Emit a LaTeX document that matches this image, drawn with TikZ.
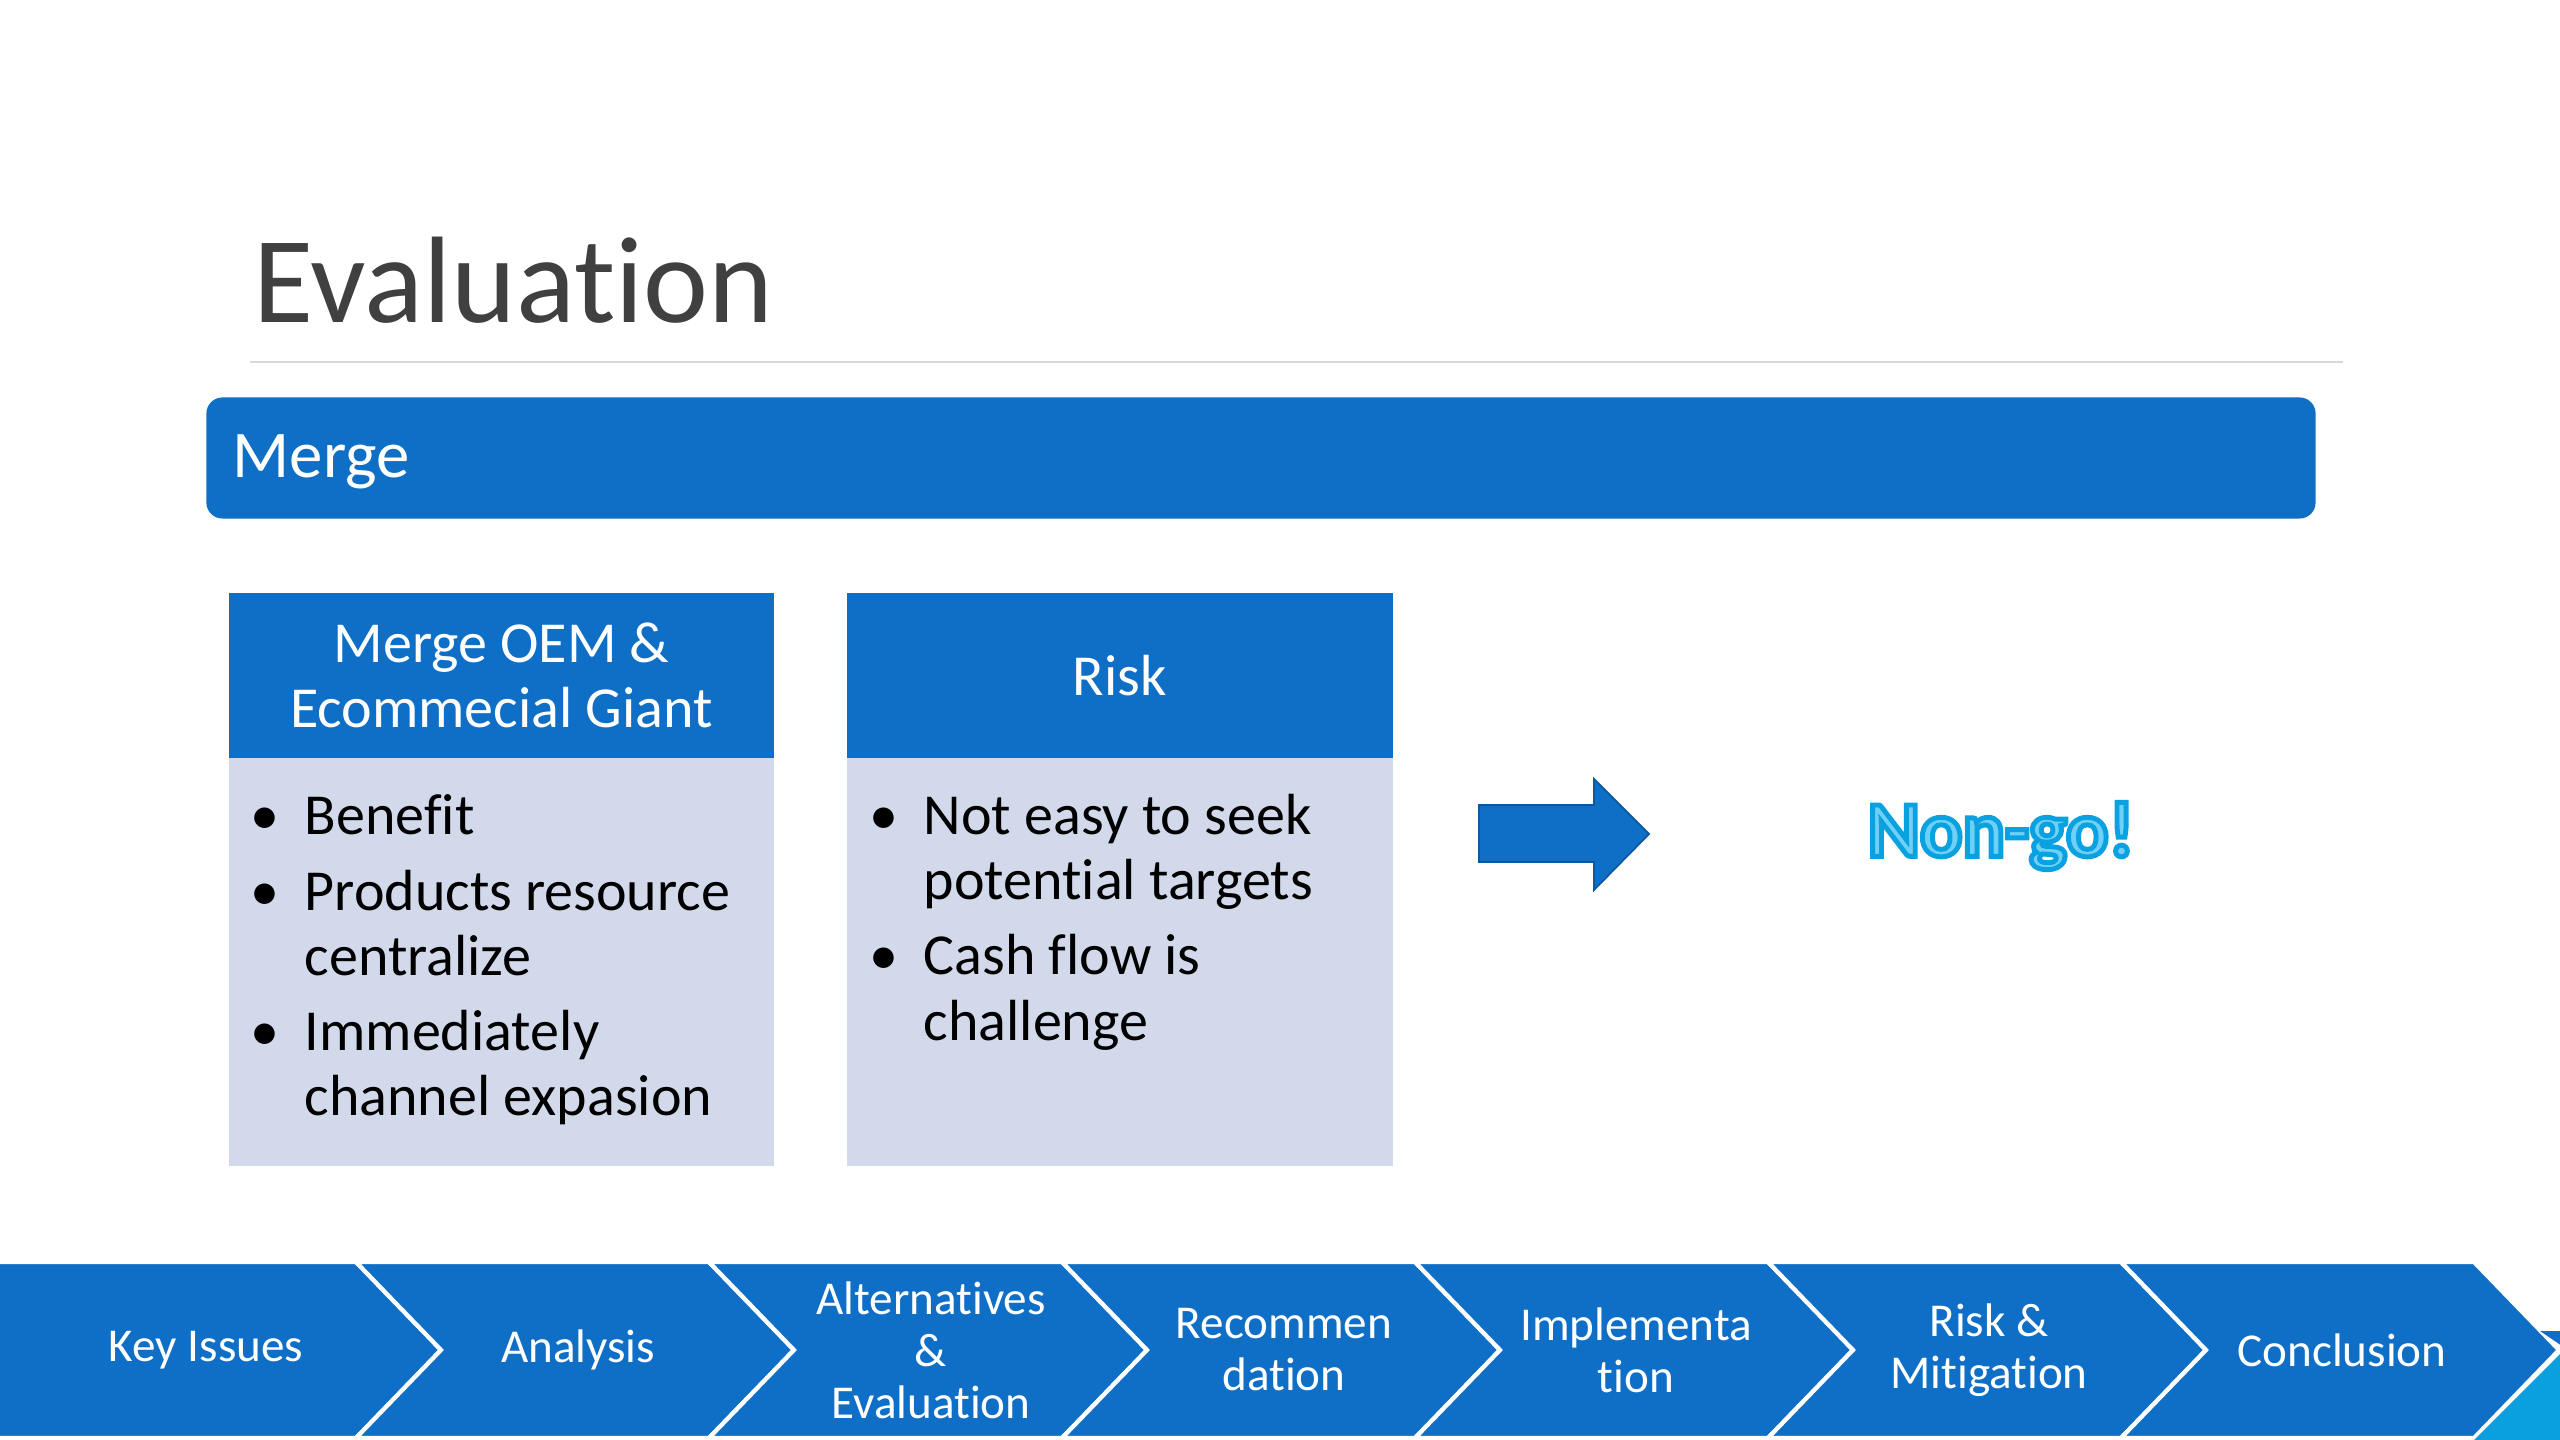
\documentclass[tikz,border=0pt]{standalone}
\usepackage{fontspec}
\setmainfont{Carlito}[Ligatures=NoCommon]
\usetikzlibrary{positioning}
\definecolor{slideblue}{HTML}{0F6FC6}
\definecolor{paleblue}{HTML}{D2D9EB}
\definecolor{titlegray}{HTML}{404040}
\definecolor{rulegray}{HTML}{D9D9D9}
\definecolor{skyblue}{HTML}{0AA0E0}
\definecolor{skylight}{HTML}{6ED0F7}
\tikzset{
  headbox/.style={fill=slideblue, text=white, align=center, inner sep=0pt, outer sep=0pt,
    minimum width=5.45cm, minimum height=1.65cm, font=\fontsize{16.5}{18.5}\selectfont},
  bodybox/.style={fill=paleblue, inner sep=0pt, outer sep=0pt,
    minimum width=5.45cm, minimum height=4.08cm},
  itembox/.style={anchor=base west, inner sep=0pt, text width=4.6cm, align=left,
    font=\fontsize{16.5}{18.5}\selectfont},
  chevron/.style={fill=slideblue, draw=white, line width=1.2pt, line join=miter},
  chevtext/.style={text=white, align=center, inner sep=0pt, font=\fontsize{13.4}{14.8}\selectfont}
}
\newcommand{\bul}{\spaceskip=0pt\xspaceskip=0pt\llap{\textbullet\hspace{0.25cm}}}
% outlined text: light fill, darker stroke
\newcommand{\outlined}[1]{\special{pdf:literal direct 0.04 0.63 0.88 RG 2 Tr 1.4 w}#1\special{pdf:literal direct 0 Tr}}

\begin{document}
\begin{tikzpicture}[x=0.01cm,y=-0.01cm]
  \useasboundingbox (0,0) rectangle (2560,1440);

  % title and rule
  \node[anchor=base west, inner sep=0pt, text=titlegray, font=\fontsize{35}{40}\selectfont]
    (title) at (253,323) {Evaluation};
  \draw[rulegray, line width=0.8pt] (250,362) -- (2343,362);

  % merge bar
  \node[fill=slideblue, rounded corners=0.16cm, minimum width=21.08cm, minimum height=1.21cm,
    inner sep=0pt] (mergebar) at (1261,458) {};
  \node[anchor=base west, inner sep=0pt, text=white, font=\fontsize{19}{22}\selectfont]
    (mergelabel) at (232,478) {Merge};

  % two cards
  \node[headbox] (mergehead) at (501.5,675.5) {Merge OEM \&\\Ecommecial Giant};
  \node[bodybox, below=0pt of mergehead] (mergebody) {};
  \node[headbox, right=0.73cm of mergehead] (riskhead) {Risk};
  \node[bodybox, below=0pt of riskhead] (riskbody) {};

  \node[itembox] (benefit) at (304,834) {\bul Benefit};
  \node[itembox] (products) at (304,910) {\bul Products resource\\centralize};
  \node[itembox] (channel) at (304,1050) {\bul Immediately\\channel expasion};
  \node[itembox] (targets) at (923,834) {\bul Not easy to seek\\potential targets};
  \node[itembox] (cashflow) at (923,975) {\bul Cash flow is\\challenge};

  % block arrow and verdict
  \fill[slideblue, draw=slideblue!80!black, line width=0.5pt]
    (1479,805) -- (1594,805) -- (1594,779) -- (1649,834) -- (1594,890) -- (1594,862) -- (1479,862) -- cycle;
  \node[text=skylight, font=\bfseries\fontsize{22.5}{26}\selectfont] (verdict) at (2001,836)
    {\outlined{Non-go!}};

  % progress chevrons
  \fill[chevron] (-5,1262) -- (356,1262) -- (441,1350) -- (356,1438) -- (-5,1438) -- cycle;
  \foreach \l in {356,709,1062,1415,1768,2121}
    \filldraw[chevron] (\l,1262) -- (\l+353,1262) -- (\l+438,1350) -- (\l+353,1438)
      -- (\l,1438) -- (\l+85,1350) -- cycle;
  \fill[slideblue] (2540,1331) -- (2562,1331) -- (2562,1346) -- cycle;
  \fill[skyblue] (2562,1352) -- (2562,1442) -- (2472,1442) -- cycle;

  \foreach \cx/\lbl [count=\i] in {206/{Key Issues}, 578/{Analysis}, 931/{Alternatives\\\&\\Evaluation},
      1284/{Recommen\\dation}, 1636/{Implementa\\tion}, 1989/{Risk \&\\Mitigation}, 2342/{Conclusion}}
    \node[chevtext] (phase\i) at (\cx,1350) {\lbl};
\end{tikzpicture}
\end{document}
